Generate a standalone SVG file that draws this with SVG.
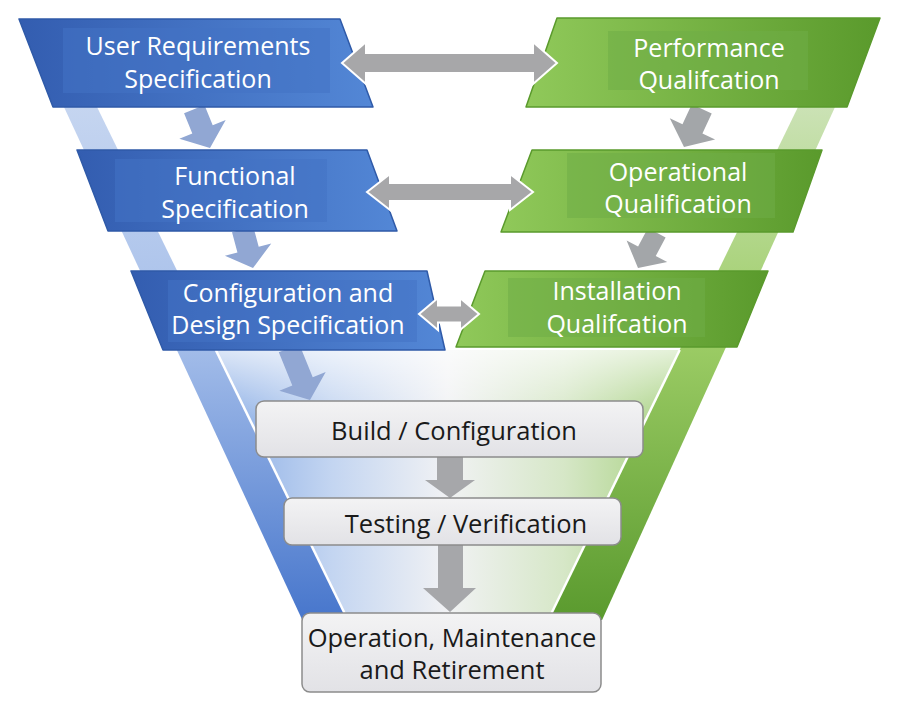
<svg xmlns="http://www.w3.org/2000/svg" width="900" height="711" viewBox="0 0 900 711">
<defs>
<linearGradient id="gBlueBox" x1="0" y1="0" x2="1" y2="0">
<stop offset="0" stop-color="#335db0"/><stop offset="1" stop-color="#5387d6"/>
</linearGradient>
<linearGradient id="gGreenBox" x1="0" y1="0" x2="1" y2="0">
<stop offset="0" stop-color="#90c95a"/><stop offset="1" stop-color="#5a9a2c"/>
</linearGradient>
<linearGradient id="gBlueBand" gradientUnits="userSpaceOnUse" x1="0" y1="107" x2="0" y2="620">
<stop offset="0" stop-color="#c5d5f0"/><stop offset="0.45" stop-color="#a6bfea"/><stop offset="1" stop-color="#4776cc"/>
</linearGradient>
<linearGradient id="gGreenBand" gradientUnits="userSpaceOnUse" x1="0" y1="107" x2="0" y2="620">
<stop offset="0" stop-color="#cbe2b5"/><stop offset="0.45" stop-color="#9dcd66"/><stop offset="1" stop-color="#5a9a2e"/>
</linearGradient>
<linearGradient id="gFill" gradientUnits="userSpaceOnUse" x1="215" y1="0" x2="680" y2="0">
<stop offset="0" stop-color="#88ace5"/><stop offset="0.25" stop-color="#c3d5f1"/><stop offset="0.5" stop-color="#f1f2f4"/><stop offset="0.75" stop-color="#d6e7c7"/><stop offset="1" stop-color="#a5d07d"/>
</linearGradient>
<linearGradient id="gFade" gradientUnits="userSpaceOnUse" x1="0" y1="350" x2="0" y2="420">
<stop offset="0" stop-color="#ffffff" stop-opacity="0.7"/><stop offset="1" stop-color="#ffffff" stop-opacity="0"/>
</linearGradient>
<linearGradient id="gGrayBox" x1="0" y1="0" x2="0" y2="1">
<stop offset="0" stop-color="#f3f3f4"/><stop offset="1" stop-color="#e2e2e6"/>
</linearGradient>
<style>
.blue{fill:url(#gBlueBox);stroke:#2f5aa8;stroke-width:1.5;stroke-linejoin:round}
.green{fill:url(#gGreenBox);stroke:#5a9a2c;stroke-width:1.5;stroke-linejoin:round}
.tbB{fill:#4472c4;opacity:0.55}
.tbG{fill:#70ad47;opacity:0.55}
.gray{fill:url(#gGrayBox);stroke:#8c8c8c;stroke-width:1.5}
.wt{font-family:"Open Sans","Liberation Sans",sans-serif;font-size:25px;fill:#ffffff;text-anchor:middle}
.dt{font-family:"Open Sans","Liberation Sans",sans-serif;font-size:25.5px;fill:#1a1a1a;text-anchor:middle}
.darr{fill:#a7a7a9;stroke:#ffffff;stroke-width:2;stroke-linejoin:miter}
.dnB{fill:#91a7d3}
.dnG{fill:#a3a6a9}
.dnC{fill:#a6a7aa}
</style>
</defs>
<rect width="900" height="711" fill="#ffffff"/>
<g id="v-shape">
<polygon points="60.7,100 93.6,100 347.9,620 302.3,620" fill="url(#gBlueBand)"/>
<polygon points="838.2,100 801.4,100 548.2,620 602.1,620" fill="url(#gGreenBand)"/>
<polygon points="215.8,350 679.7,350 548.2,620 347.9,620" fill="url(#gFill)"/>
<polygon points="215.8,350 679.7,350 548.2,620 347.9,620" fill="url(#gFade)"/>
<line x1="215.8" y1="350" x2="347.9" y2="620" stroke="#ffffff" stroke-width="2.5"/>
<line x1="679.7" y1="350" x2="548.2" y2="620" stroke="#ffffff" stroke-width="2.5"/>
</g>
<g id="connectors">
<polygon class="dnB" transform="translate(210,148) rotate(-22)" points="-11,-42 11,-42 11,-20 25,-20 0,0 -25,-20 -11,-20"/>
<polygon class="dnB" transform="translate(253,268) rotate(-15)" points="-11,-40 11,-40 11,-19 24,-19 0,0 -24,-19 -11,-19"/>
<polygon class="dnB" transform="translate(310,400) rotate(-22)" points="-11,-56 11,-56 11,-20 25,-20 0,0 -25,-20 -11,-20"/>
<polygon class="dnG" transform="translate(684,147) rotate(25)" points="-11,-42 11,-42 11,-20 25,-20 0,0 -25,-20 -11,-20"/>
<polygon class="dnG" transform="translate(638,268) rotate(28)" points="-10,-40 10,-40 10,-19 23,-19 0,0 -23,-19 -10,-19"/>
<polygon class="dnC" points="437,455 463,455 463,480 475,480 450,498 425,480 437,480"/>
<polygon class="dnC" points="438,543 463,543 463,588 476,588 450,612 423,588 438,588"/>
</g>
<g id="urs">
<polygon class="blue" points="19,19 340,19 373,107 53,107"/>
<rect class="tbB" x="63" y="28" width="267" height="65"/>
<text class="wt" x="198" y="55">User Requirements</text>
<text class="wt" x="198" y="88">Specification</text>
</g>
<g id="fs">
<polygon class="blue" points="77,150 367,150 397,231 108,231"/>
<rect class="tbB" x="115" y="159" width="212" height="63"/>
<text class="wt" x="235" y="185">Functional</text>
<text class="wt" x="235" y="218">Specification</text>
</g>
<g id="cds">
<polygon class="blue" points="131,271 427,271 445,350 163,350"/>
<rect class="tbB" x="168" y="280" width="249" height="62"/>
<text class="wt" x="288" y="302">Configuration and</text>
<text class="wt" x="288" y="334">Design Specification</text>
</g>
<g id="pq">
<polygon class="green" points="557,18 880,18 847,107 526,107"/>
<rect class="tbG" x="608" y="31" width="200" height="59"/>
<text class="wt" x="709" y="57">Performance</text>
<text class="wt" x="709" y="89">Qualifcation</text>
</g>
<g id="oq">
<polygon class="green" points="532,150 822,150 793,232 501,232"/>
<rect class="tbG" x="567" y="153" width="208" height="65"/>
<text class="wt" x="678" y="181">Operational</text>
<text class="wt" x="678" y="213">Qualification</text>
</g>
<g id="iq">
<polygon class="green" points="485,271 768,271 737,347 456,347"/>
<rect class="tbG" x="508" y="278" width="197" height="59"/>
<text class="wt" x="617" y="300">Installation</text>
<text class="wt" x="617" y="333">Qualifcation</text>
</g>
<g id="build">
<rect class="gray" x="256" y="401" width="387" height="56" rx="8"/>
<text class="dt" x="454" y="440">Build / Configuration</text>
</g>
<g id="testing">
<rect class="gray" x="284" y="498" width="337" height="47" rx="8"/>
<text class="dt" x="466" y="533">Testing / Verification</text>
</g>
<g id="operation">
<rect class="gray" x="302" y="613" width="299" height="79" rx="8"/>
<text class="dt" x="452" y="647">Operation, Maintenance</text>
<text class="dt" x="452" y="679">and Retirement</text>
</g>
<g id="connectors-horizontal">
<polygon class="darr" points="342,63 366,42 366,53 533,53 533,42 557,63 533,84 533,73 366,73 366,84"/>
<polygon class="darr" points="367,192 390,174 390,183 510,183 510,174 533,192 510,210 510,201 390,201 390,210"/>
<polygon class="darr" points="419,314 438,298 438,305.5 460,305.5 460,298 479,314 460,330 460,322.5 438,322.5 438,330"/>
</g>
</svg>
